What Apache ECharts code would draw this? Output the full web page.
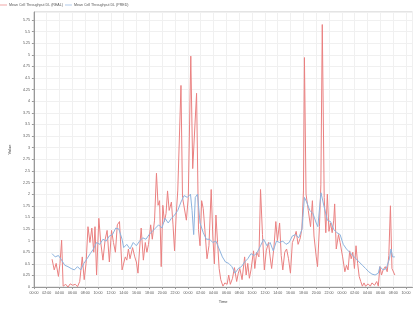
<!DOCTYPE html>
<html>
<head>
<meta charset="utf-8">
<script src="https://cdn.jsdelivr.net/npm/echarts@6/dist/echarts.min.js"></script>
<style>html,body{margin:0;padding:0;background:#fff}#c{width:414px;height:309px}</style>
</head>
<body>
<div id="c"></div>
<script>
// Hours elapsed since 00:00 of day 1
const realHours = [2.83,3.17,3.47,3.82,4.07,4.32,4.56,4.96,5.31,5.65,6.05,6.45,6.80,7.14,7.54,7.84,8.13,8.43,8.73,9.03,9.33,9.52,9.77,10.12,10.42,10.76,11.11,11.41,11.76,12.10,12.40,12.70,13.00,13.34,13.74,
14.24,14.48,14.73,14.98,15.38,15.72,15.97,16.22,16.47,16.72,17.06,17.36,17.61,17.86,18.20,18.45,18.80,19.10,19.35,19.59,19.84,20.09,20.34,20.59,20.83,21.08,21.43,21.68,21.92,22.17,22.42,22.67,22.92,23.16,23.41,23.76,24.06,24.45,24.75,25.35,25.65,25.89,26.14,26.39,26.64,26.98,27.28,27.63,27.88,28.13,28.37,28.62,28.87,29.12,
29.46,29.76,30.11,30.36,30.61,30.95,31.25,31.60,31.85,32.09,32.44,32.84,33.08,33.33,33.58,33.83,34.23,34.42,34.72,35.07,35.32,35.62,35.91,36.21,36.56,36.81,37.05,37.40,37.70,37.95,38.29,38.54,38.79,39.09,39.38,39.68,39.98,40.28,40.58,40.87,41.17,41.52,41.77,42.01,42.16,42.41,42.76,43.11,43.40,43.65,44.00,
44.20,44.50,44.72,44.94,45.24,45.49,45.73,45.98,46.23,46.48,46.73,46.87,47.12,47.47,47.72,48.11,48.46,48.71,48.96,49.21,49.45,49.70,49.95,50.20,50.45,50.69,50.94,51.19,51.44,51.69,52.08,52.43,52.68,53.08,53.42,53.67,53.92,54.17,54.42,54.76,55.06,55.31,55.56,55.80,56.05,56.25];
const realValues = [0.60,0.37,0.51,0.23,0.51,1.01,0.02,0.06,0.00,0.07,0.04,0.06,0.01,0.12,0.65,0.16,0.51,1.30,0.96,1.27,0.75,1.30,0.26,1.48,0.96,0.58,1.03,1.22,0.54,1.22,0.96,0.75,1.34,1.41,0.37,
0.65,0.58,0.82,0.61,0.85,0.65,0.54,0.30,0.82,1.27,0.58,0.96,0.75,0.92,1.34,1.03,1.44,2.45,1.76,1.86,0.44,1.76,1.41,1.58,2.07,1.65,1.83,1.34,0.78,1.55,2.07,2.10,4.34,1.93,1.97,1.44,1.93,4.97,2.55,4.17,1.24,0.89,1.86,1.69,1.24,0.61,0.89,2.10,1.10,0.50,1.55,0.96,0.40,0.16,
0.02,0.09,0.06,0.26,0.06,0.19,0.42,0.12,0.30,0.40,0.16,0.65,0.26,0.51,0.19,0.37,0.78,0.40,0.75,0.65,2.10,1.13,0.37,0.78,0.96,0.65,0.40,0.85,1.41,1.00,1.38,0.68,0.37,0.75,0.82,0.61,0.30,0.96,1.06,1.20,0.92,1.06,1.27,2.07,4.94,2.00,1.65,1.30,1.86,1.10,0.65,
0.44,1.30,2.20,5.65,1.93,1.17,2.00,1.20,1.38,1.17,1.44,1.79,0.82,1.13,0.96,0.65,0.33,0.47,0.37,0.78,0.61,0.75,0.40,0.89,0.51,0.23,0.12,0.02,0.09,0.02,0.07,0.02,0.09,0.04,0.12,0.02,0.44,0.26,0.37,0.44,0.33,0.68,1.75,0.40,0.37,0.26];

const predHours = [2.83,3.32,3.82,4.32,4.81,5.31,5.80,6.30,6.80,7.29,7.79,8.28,8.78,9.28,9.77,10.27,10.76,11.26,11.76,12.25,12.75,13.24,13.74,13.99,
14.48,14.98,15.48,15.97,16.47,16.96,17.46,17.96,18.45,18.95,19.44,19.94,20.44,20.93,21.43,21.92,22.42,22.92,23.41,23.91,24.40,24.65,24.90,25.15,25.50,25.89,26.39,26.88,27.38,27.88,28.37,28.87,29.37,
29.86,30.36,30.85,31.35,31.85,32.34,32.84,33.33,33.83,34.33,34.82,35.32,35.81,36.31,36.81,37.30,37.80,38.29,38.79,39.29,39.78,40.28,40.77,41.27,41.77,42.16,42.51,43.00,43.50,43.99,
44.25,44.74,45.24,45.73,46.23,46.73,47.22,47.72,48.21,48.71,49.21,49.70,50.20,50.69,51.19,51.69,52.18,52.68,53.17,53.67,53.92,54.42,54.91,55.41,55.65,55.90,56.25];
const predValues = [0.72,0.65,0.68,0.58,0.47,0.44,0.40,0.37,0.44,0.37,0.51,0.61,0.72,0.82,0.96,0.92,1.03,0.99,1.10,1.13,1.27,1.25,1.03,0.85,
0.92,0.82,0.96,0.89,0.99,1.06,1.03,1.13,1.20,1.27,1.34,1.27,1.48,1.38,1.48,1.55,1.65,1.83,1.97,1.93,2.00,1.65,1.13,1.93,2.00,1.38,1.17,1.03,1.03,0.96,0.99,0.82,0.65,
0.54,0.51,0.44,0.30,0.40,0.44,0.54,0.61,0.72,0.68,0.75,0.89,1.03,0.89,0.96,0.78,0.99,0.96,0.99,0.92,0.96,1.10,1.13,1.06,1.24,1.93,1.83,1.65,1.58,1.38,
1.30,2.03,1.72,1.44,1.41,1.24,1.17,1.13,0.92,0.82,0.75,0.68,0.61,0.54,0.47,0.40,0.33,0.28,0.26,0.30,0.44,0.37,0.40,0.61,0.82,0.65,0.65];

const seriesNames = ['Mean Cell Throughput DL (REAL)', 'Mean Cell Throughput DL (PRED)'];
const xName = 'Time';
const yName = 'Value';

const realData = realHours.map((h, i) => [h, realValues[i]]);
const predData = predHours.map((h, i) => [h, predValues[i]]);

const chart = echarts.init(document.getElementById('c'), null, {renderer: 'canvas'});
const FS = 3.6;
const axisText = {fontSize: FS, color: '#555', fontFamily: 'Liberation Sans'};
chart.setOption({
  animation: false,
  backgroundColor: '#fff',
  legend: {
    left: 0, top: 3, itemWidth: 7, itemHeight: 3, itemGap: 2, padding: 0,
    textStyle: {fontSize: FS, color: '#555', fontFamily: 'Liberation Sans', padding: [0,0,0,-3]},
    icon: 'path://M0,1 L10,1 L10,2 L0,2 Z',
    data: seriesNames
  },
  grid: {left: 16.5, right: 1.5, top: 12, bottom: 13, show: true, borderColor: '#c8c8c8', borderWidth: 1},
  xAxis: {
    type: 'value', min: 0, max: 59, interval: 2,
    name: xName, nameLocation: 'middle', nameGap: 9,
    nameTextStyle: {fontSize: FS + 0.4, color: '#444', fontFamily: 'Liberation Sans'},
    axisLine: {lineStyle: {color: '#999'}},
    axisTick: {show: true, length: 2, lineStyle: {color: '#999'}},
    axisLabel: Object.assign({margin: 4, showMaxLabel: false, hideOverlap: false,
      formatter: v => String(Math.round(v) % 24).padStart(2, '0') + ':00'}, axisText),
    splitLine: {show: true, lineStyle: {color: '#f0f0f0', width: 1}}
  },
  yAxis: {
    type: 'value', min: 0, max: 5.92, interval: 0.25,
    name: yName, nameLocation: 'middle', nameGap: 12, nameRotate: 90,
    nameTextStyle: {fontSize: FS + 0.4, color: '#444', fontFamily: 'Liberation Sans'},
    axisLine: {show: true, lineStyle: {color: '#999'}},
    axisTick: {show: true, length: 2, lineStyle: {color: '#999'}},
    axisLabel: Object.assign({margin: 4, showMaxLabel: false}, axisText),
    splitLine: {show: true, lineStyle: {color: '#f0f0f0', width: 1}}
  },
  series: [
    {name: seriesNames[0], type: 'line', data: realData, showSymbol: false, symbol: 'none',
     lineStyle: {color: '#ea8080', width: 1}, itemStyle: {color: '#ea8080'}, z: 2},
    {name: seriesNames[1], type: 'line', data: predData, showSymbol: false, symbol: 'none',
     lineStyle: {color: '#8db3de', width: 1}, itemStyle: {color: '#8db3de'}, z: 3}
  ]
});
</script>
</body>
</html>
